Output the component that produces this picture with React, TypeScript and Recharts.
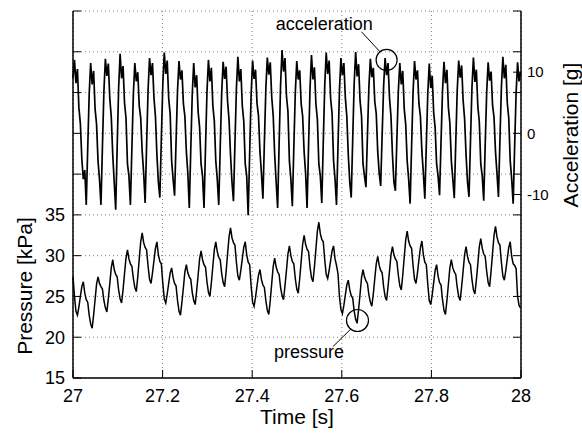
import {
  CartesianGrid,
  Line,
  LineChart,
  ReferenceDot,
  ReferenceLine,
  XAxis,
  YAxis,
} from 'recharts'

// sampled signal: one value per sample, starting at 27 s
const sampleStart = 27
const sampleStep = 0.003286

const accelG = [
  9.0, 12.0, 8.2, 10.5, 4.2, 1.6, -4.2, -7.5, -6.0,
  -11.7, -2.4, 6.4, 11.5, 8.0, 10.2, 4.0, 1.5, -4.5, -7.5,
  -11.7, -2.1, 6.9, 12.2, 9.4, 11.4, 5.7, 2.7, -3.5, -8.0,
  -12.5, -2.3, 7.4, 13.0, 9.0, 11.0, 5.0, 2.5, -5.0, -7.0,
  -11.7, -2.4, 6.4, 11.5, 8.5, 10.0, 4.5, 2.5, -3.0, -6.5,
  -11.4, -1.9, 7.1, 12.3, 9.5, 11.5, 5.8, 2.8, -3.5, -8.0,
  -10.5, -1.0, 8.0, 13.2, 9.7, 11.9, 5.7, 3.2, -4.5, -7.5,
  -10.2, -1.4, 7.0, 11.8, 8.8, 10.3, 4.8, 2.8, -3.0, -6.5,
  -12.2, -2.7, 6.3, 11.5, 7.5, 9.5, 3.5, 1.0, -5.0, -7.0,
  -12.2, -2.5, 6.7, 12.0, 8.5, 10.7, 4.5, 2.0, -4.5, -7.5,
  -11.7, -2.3, 6.6, 11.7, 8.9, 10.9, 5.2, 2.2, -3.5, -8.0,
  -11.1, -1.7, 7.3, 12.5, 8.5, 10.5, 4.5, 2.0, -5.0, -7.0,
  -13.4, -3.3, 6.3, 11.9, 8.9, 10.4, 4.9, 2.9, -3.0, -6.5,
  -10.7, -1.5, 7.3, 12.4, 9.6, 11.6, 5.9, 2.9, -3.5, -8.0,
  -12.2, -1.9, 7.9, 13.6, 10.1, 12.3, 6.1, 3.6, -4.5, -7.5,
  -11.9, -2.4, 6.6, 11.8, 8.8, 10.3, 4.8, 2.8, -3.0, -6.5,
  -12.2, -2.2, 7.3, 12.8, 8.8, 10.8, 4.8, 2.3, -5.0, -7.0,
  -11.4, -1.6, 7.8, 13.2, 9.7, 11.9, 5.7, 3.2, -4.5, -7.5,
  -11.7, -2.1, 7.0, 12.3, 9.5, 11.5, 5.8, 2.8, -3.5, -8.0,
  -10.5, -1.0, 8.1, 13.3, 9.3, 11.3, 5.3, 2.8, -5.0, -7.0,
  -8.8, -0.4, 7.6, 12.2, 9.2, 10.7, 5.2, 3.2, -3.0, -6.5,
  -8.6, -0.2, 7.7, 12.3, 9.5, 11.5, 5.8, 2.8, -3.5, -8.0,
  -9.4, -1.0, 6.9, 11.5, 8.0, 10.2, 4.0, 1.5, -4.5, -7.5,
  -11.5, -2.2, 6.7, 11.8, 8.8, 10.3, 4.8, 2.8, -3.0, -6.5,
  -10.7, -1.9, 6.5, 11.4, 7.4, 9.4, 3.4, 0.9, -5.0, -7.0,
  -10.1, -1.4, 6.9, 11.7, 8.2, 10.4, 4.2, 1.7, -4.5, -7.5,
  -10.6, -1.6, 7.0, 11.9, 9.1, 11.1, 5.4, 2.4, -3.5, -8.0,
  -10.4, -1.3, 7.4, 12.4, 8.4, 10.4, 4.4, 1.9, -5.0, -7.0,
  -11.0, -2.0, 6.6, 11.6, 8.6, 10.1, 4.6, 2.6, -3.0, -6.5,
  -10.4, -1.2, 7.5, 12.5, 9.0, 11.2, 5.0, 2.5, -4.5, -7.5,
  -11.5, -2.2, 6.6, 11.6, 8.5, 10.0,
]

const pressureKPa = [
  27.4, 25.0, 23.2,
  22.7, 23.7, 25.0, 26.2, 26.8, 25.4, 24.6, 24.3, 22.7, 21.6,
  21.1, 22.7, 24.6, 26.5, 27.4, 26.6, 26.2, 25.9, 24.5, 23.6,
  23.1, 24.7, 26.6, 28.5, 29.5, 28.3, 27.7, 27.4, 25.8, 24.7,
  24.2, 25.8, 27.8, 29.7, 30.7, 29.6, 29.0, 28.7, 27.2, 26.1,
  25.6, 27.4, 29.6, 31.7, 32.8, 31.6, 31.0, 30.7, 28.7, 27.1,
  26.6, 27.9, 29.4, 30.9, 31.7, 30.1, 29.3, 29.0, 26.6, 24.7,
  24.2, 25.3, 26.6, 27.9, 28.5, 27.3, 26.6, 26.3, 24.5, 23.2,
  22.7, 24.3, 26.1, 28.0, 28.9, 27.9, 27.4, 27.1, 25.5, 24.5,
  24.0, 25.7, 27.6, 29.6, 30.6, 29.5, 28.9, 28.6, 26.8, 25.5,
  25.0, 26.7, 28.7, 30.7, 31.7, 30.5, 29.8, 29.5, 27.8, 26.7,
  26.2, 28.0, 30.2, 32.3, 33.4, 32.2, 31.6, 31.3, 29.2, 27.5,
  27.0, 28.2, 29.6, 31.0, 31.7, 30.1, 29.2, 28.9, 26.3, 24.3,
  23.8, 24.9, 26.3, 27.6, 28.3, 27.1, 26.4, 26.1, 24.5, 23.3,
  22.8, 24.5, 26.6, 28.7, 29.7, 28.6, 28.0, 27.7, 26.1, 25.1,
  24.6, 26.3, 28.2, 30.2, 31.2, 30.0, 29.3, 29.0, 27.2, 25.9,
  25.4, 27.2, 29.3, 31.4, 32.5, 31.4, 30.8, 30.5, 28.6, 27.3,
  26.8, 28.6, 30.8, 33.0, 34.1, 32.7, 32.0, 31.7, 29.5, 27.7,
  27.2, 28.2, 29.4, 30.6, 31.2, 29.6, 28.8, 27.8, 25.0, 23.4,
  22.9, 23.9, 25.2, 26.4, 27.0, 25.8, 25.1, 24.8, 23.2, 22.2,
  21.7, 23.4, 25.3, 27.3, 28.3, 27.4, 26.9, 26.6, 25.2, 24.3,
  23.8, 25.3, 27.2, 29.0, 29.9, 28.8, 28.2, 27.9, 26.2, 25.0,
  24.5, 26.2, 28.1, 30.1, 31.1, 30.1, 29.6, 29.3, 27.6, 26.3,
  25.8, 27.6, 29.8, 31.9, 33.0, 31.8, 31.2, 30.9, 28.8, 27.1,
  26.6, 27.9, 29.5, 31.0, 31.8, 30.1, 29.2, 28.9, 26.5, 24.5,
  24.0, 25.2, 26.7, 28.2, 28.9, 27.5, 26.7, 26.4, 24.6, 23.3,
  22.8, 24.5, 26.5, 28.5, 29.5, 28.5, 28.0, 27.7, 26.1, 25.0,
  24.5, 26.2, 28.1, 30.1, 31.1, 29.9, 29.2, 28.9, 27.1, 25.8,
  25.3, 27.0, 29.0, 31.1, 32.1, 30.9, 30.2, 29.9, 28.1, 26.7,
  26.2, 28.1, 30.3, 32.5, 33.6, 32.3, 31.6, 31.3, 29.2, 27.5,
  27.0, 28.2, 29.6, 31.0, 31.7, 29.9, 29.0, 28.8, 28.4, 25.0, 23.9, 23.6,
]

const timeTicks = [27, 27.2, 27.4, 27.6, 27.8, 28]
const pressureDomain = [15, 60]
const pressureTicks = [15, 20, 25, 30, 35, 40, 45, 50, 55, 60]
const pressureLabelMax = 35
const accelDomain = [-40, 20]
const accelLabels = [-10, 0, 10]

const rows = accelG.map((a, i) => ({
  t: sampleStart + i * sampleStep,
  acc: a,
  p: pressureKPa[i],
}))

// right side carries tick marks at the pressure grid as well as its own labels
const toAccel = (p: number) =>
  accelDomain[0] +
  ((p - pressureDomain[0]) * (accelDomain[1] - accelDomain[0])) / (pressureDomain[1] - pressureDomain[0])
const accelTicks = Array.from(new Set([...pressureTicks.map(toAccel), ...accelLabels])).sort((a, b) => a - b)

const FONT = '"Liberation Sans", Arial, Helvetica, sans-serif'
const tickStyle = { fontSize: 18, fill: '#000', fontFamily: FONT }
const frame = { stroke: '#000', strokeWidth: 1.5 }

function RotatedTitle({ text, cx, cy }: { text: string; cx: number; cy: number }) {
  return (
    <text
      x={cx}
      y={cy}
      transform={`rotate(-90 ${cx} ${cy})`}
      textAnchor="middle"
      dominantBaseline="central"
      fontSize={21}
      fontFamily={FONT}
      fill="#000"
    >
      {text}
    </text>
  )
}

function NoteText({ viewBox, value }: { viewBox?: any; value: string }) {
  if (!viewBox) return null
  return (
    <text x={viewBox.x} y={viewBox.y} textAnchor="middle" fontSize={18} fontFamily={FONT} fill="#000">
      {value}
    </text>
  )
}

export default function App() {
  return (
    <div style={{ width: 582, height: 433, background: '#fff' }}>
      <style>{'body { margin: 0; }'}</style>
      <LineChart width={582} height={433} data={rows} margin={{ top: 11, right: 0, bottom: 0, left: 0 }}>
        <CartesianGrid yAxisId="p" stroke="#808080" strokeDasharray="1 3" />
        <XAxis
          dataKey="t"
          type="number"
          domain={[27, 28]}
          ticks={timeTicks}
          interval={0}
          height={55}
          tick={tickStyle}
          tickSize={-8}
          tickMargin={19}
          tickLine={{ stroke: '#000' }}
          axisLine={frame}
          label={{
            value: 'Time [s]',
            position: 'insideBottom',
            offset: 9,
            fontSize: 21,
            fill: '#000',
            fontFamily: FONT,
          }}
        />
        <XAxis
          xAxisId="top"
          orientation="top"
          type="number"
          domain={[27, 28]}
          ticks={timeTicks}
          interval={0}
          height={0}
          tickSize={-8}
          tickFormatter={() => ''}
          tickLine={{ stroke: '#000' }}
          axisLine={frame}
        />
        <YAxis
          yAxisId="p"
          type="number"
          domain={pressureDomain}
          ticks={pressureTicks}
          interval={0}
          width={73}
          tick={tickStyle}
          tickSize={-8}
          tickMargin={16}
          tickFormatter={(v: number) => (v <= pressureLabelMax ? String(v) : '')}
          tickLine={{ stroke: '#000' }}
          axisLine={frame}
          label={() => <RotatedTitle text="Pressure [kPa]" cx={24} cy={286} />}
        />
        <YAxis
          yAxisId="a"
          orientation="right"
          type="number"
          domain={accelDomain}
          ticks={accelTicks}
          interval={0}
          width={61}
          tick={{ ...tickStyle, fontSize: 15 }}
          tickSize={-8}
          tickMargin={14}
          tickFormatter={(v: number) => (accelLabels.includes(v) ? String(v) : '')}
          tickLine={{ stroke: '#000' }}
          axisLine={frame}
          label={() => <RotatedTitle text="Acceleration [g]" cx={570} cy={135} />}
        />
        <Line
          yAxisId="a"
          dataKey="acc"
          type="linear"
          stroke="#000"
          strokeWidth={1.7}
          dot={false}
          activeDot={false}
          isAnimationActive={false}
        />
        <Line
          yAxisId="p"
          dataKey="p"
          type="linear"
          stroke="#000"
          strokeWidth={1.5}
          dot={false}
          activeDot={false}
          isAnimationActive={false}
        />
        {/* acceleration callout */}
        <ReferenceDot yAxisId="a" x={27.7} y={12} r={10.5} fill="none" stroke="#000" strokeWidth={1.2} />
        <ReferenceLine
          yAxisId="a"
          segment={[
            { x: 27.644, y: 16.6 },
            { x: 27.685, y: 13.35 },
          ]}
          stroke="#000"
          strokeWidth={1}
        />
        <ReferenceDot
          yAxisId="a"
          x={27.561}
          y={16.9}
          r={0}
          fill="none"
          stroke="none"
          label={(props: any) => <NoteText viewBox={props.viewBox} value="acceleration" />}
        />
        {/* pressure callout */}
        <ReferenceDot yAxisId="p" x={27.635} y={22.05} r={11} fill="none" stroke="#000" strokeWidth={1.2} />
        <ReferenceLine
          yAxisId="p"
          segment={[
            { x: 27.58, y: 18.84 },
            { x: 27.62, y: 21.0 },
          ]}
          stroke="#000"
          strokeWidth={1}
        />
        <ReferenceDot
          yAxisId="p"
          x={27.527}
          y={17.45}
          r={0}
          fill="none"
          stroke="none"
          label={(props: any) => <NoteText viewBox={props.viewBox} value="pressure" />}
        />
      </LineChart>
    </div>
  )
}
